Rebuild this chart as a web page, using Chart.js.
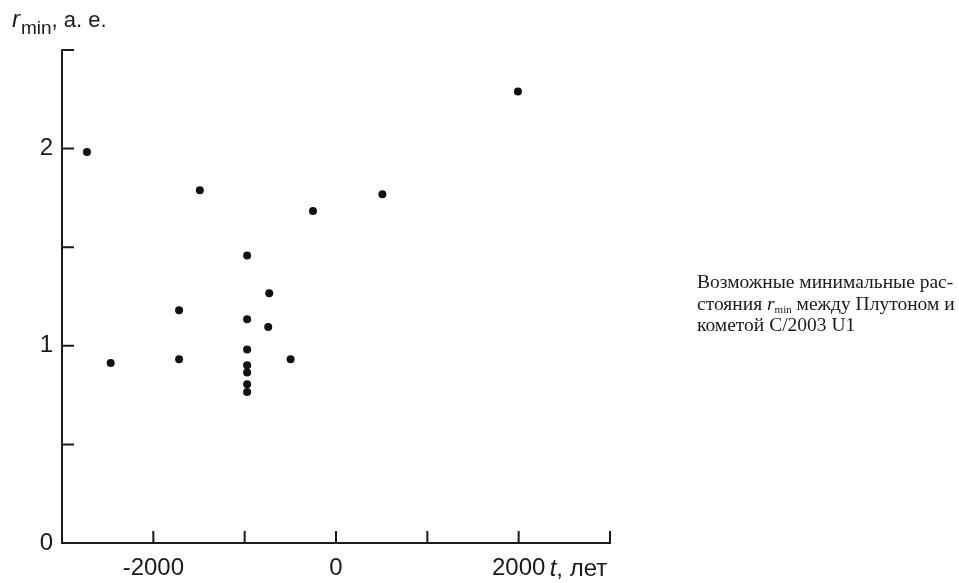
<!DOCTYPE html>
<html>
<head>
<meta charset="utf-8">
<script src="https://cdn.jsdelivr.net/npm/chart.js@4"></script>
<style>
  html, body { margin: 0; padding: 0; background: #fff; }
  #wrap { position: relative; width: 959px; height: 583px; }
  #caption {
    position: absolute; left: 697px; top: 271px; width: 262px;
    font-family: 'Liberation Serif', 'Times New Roman', serif;
    font-size: 19.5px; line-height: 21.5px; color: #1a1a1a; white-space: nowrap;
  }
  #caption sub { font-size: 11px; vertical-align: -3px; line-height: 0; }
</style>
</head>
<body>
<div id="wrap">
  <canvas id="plutoChart" width="959" height="583"></canvas>
  <div id="caption">Возможные минимальные рас-<br>стояния <i>r</i><sub>min</sub> между Плутоном и<br>кометой C/2003 U1</div>
</div>
<script>
// t, years, and r_min, AU
const years = [-2727, -2467, -1718, -1718, -1491, -973, -973, -973, -973, -973, -973, -973, -731, -742, -497, -252, 508, 1992];
const rMin  = [1.983, 0.913, 1.180, 0.932, 1.789, 1.458, 1.135, 0.981, 0.901, 0.864, 0.805, 0.766, 1.266, 1.095, 0.932, 1.684, 1.768, 2.289];

const xTicks = [-3000, -2000, -1000, 0, 1000, 2000, 3000];
const xTickLabels = [-2000, 0, 2000];
const yTicks = [0, 0.5, 1, 1.5, 2, 2.5];
const yTickLabels = [0, 1, 2];

const ink = '#1a1a1a';
const sans = "'Liberation Sans', Arial, sans-serif";
const tickFont = { family: sans, size: 24 };

const points = years.map((t, i) => ({ x: t, y: rMin[i] }));

// inward tick marks + axis titles
const axisDecor = {
  id: 'axisDecor',
  afterDraw(chart) {
    const { ctx, chartArea, scales } = chart;
    const len = 12;
    ctx.save();
    ctx.strokeStyle = ink;
    ctx.lineWidth = 2;
    ctx.beginPath();
    xTicks.forEach(v => {
      if (v === xTicks[0]) return;
      const px = scales.x.getPixelForValue(v);
      ctx.moveTo(px, chartArea.bottom);
      ctx.lineTo(px, chartArea.bottom - len);
    });
    yTicks.forEach(v => {
      if (v === yTicks[0]) return;
      const py = scales.y.getPixelForValue(v);
      ctx.moveTo(chartArea.left, py);
      ctx.lineTo(chartArea.left + len, py);
    });
    ctx.stroke();

    ctx.fillStyle = ink;
    ctx.textBaseline = 'alphabetic';
    ctx.textAlign = 'left';

    // x title: "t, лет"
    let x = scales.x.getPixelForValue(2000) + 31;
    const by = 576;
    ctx.font = 'italic 24px ' + sans;
    ctx.fillText('t', x, by);
    x += ctx.measureText('t').width;
    ctx.font = '24px ' + sans;
    ctx.fillText(', лет', x, by);

    // y title: "r_min, а. е."
    let yx = 12;
    const yb = 27;
    ctx.font = 'italic 24px ' + sans;
    ctx.fillText('r', yx, yb);
    yx += ctx.measureText('r').width + 1;
    ctx.font = '19px ' + sans;
    ctx.fillText('min', yx, yb + 7);
    yx += ctx.measureText('min').width;
    ctx.font = '22px ' + sans;
    ctx.fillText(', а. е.', yx, yb);
    ctx.restore();
  }
};

const plutoConfig = {
  type: 'scatter',
  data: {
    datasets: [{
      label: 'r_min',
      data: points,
      backgroundColor: '#111',
      borderWidth: 0,
      pointRadius: 4,
      pointHoverRadius: 4
    }]
  },
  options: {
    responsive: false,
    animation: false,
    layout: { padding: { left: 0, top: 50, right: 349, bottom: 0 } },
    plugins: { legend: { display: false }, tooltip: { enabled: false } },
    scales: {
      x: {
        type: 'linear',
        min: -3000,
        max: 3000,
        afterFit: s => { s.height = 40; },
        afterBuildTicks: s => { s.ticks = xTicks.map(v => ({ value: v })); },
        grid: { display: false, drawTicks: false },
        border: { display: true, color: ink, width: 2 },
        ticks: {
          color: ink,
          font: tickFont,
          padding: 11,
          maxRotation: 0,
          autoSkip: false,
          callback: v => xTickLabels.includes(v) ? String(v) : ''
        }
      },
      y: {
        type: 'linear',
        min: 0,
        max: 2.5,
        afterFit: s => { s.width = 62; },
        afterBuildTicks: s => { s.ticks = yTicks.map(v => ({ value: v })); },
        grid: { display: false, drawTicks: false },
        border: { display: true, color: ink, width: 2 },
        ticks: {
          color: ink,
          font: tickFont,
          padding: 9,
          autoSkip: false,
          callback: v => yTickLabels.includes(v) ? String(v) : ''
        }
      }
    }
  },
  plugins: [axisDecor]
};

const plutoChart = new Chart(document.getElementById('plutoChart'), plutoConfig);
</script>
</body>
</html>
